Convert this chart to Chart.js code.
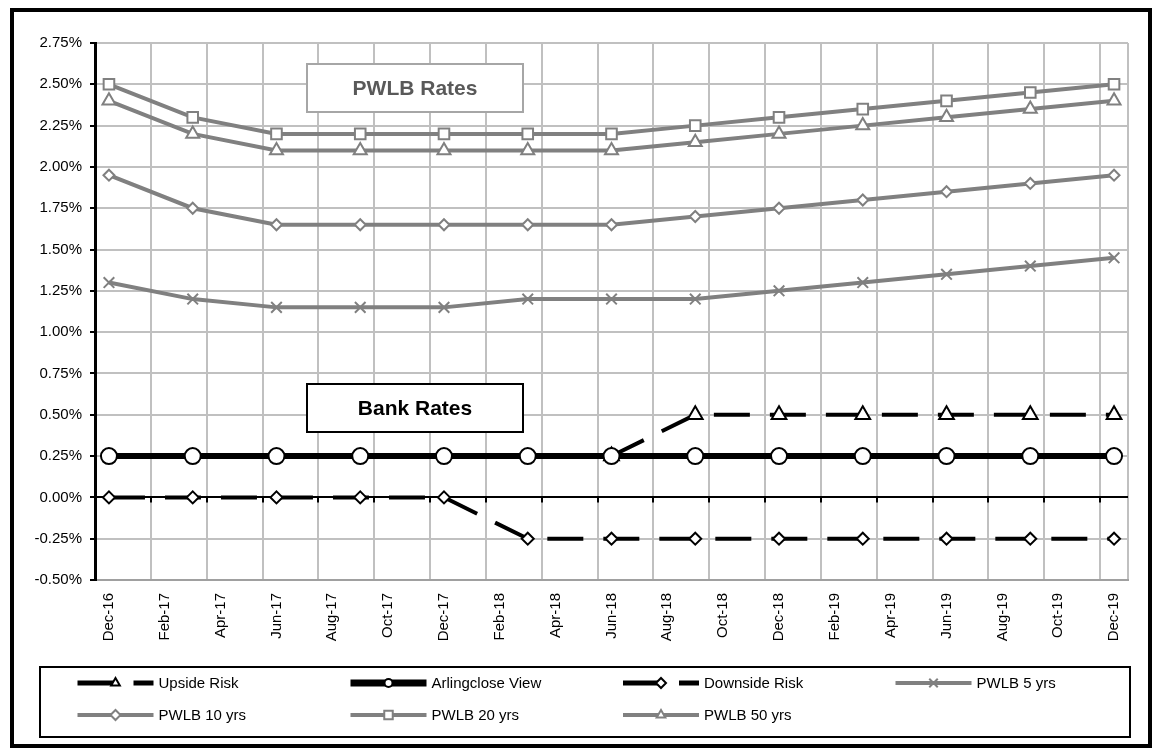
<!DOCTYPE html>
<html>
<head>
<meta charset="utf-8">
<title>PWLB and Bank Rates</title>
<script src="https://cdn.jsdelivr.net/npm/chart.js@4.4.1/dist/chart.umd.min.js"></script>
<style>
  html, body { margin: 0; padding: 0; background: #fff; }
  #wrap { position: relative; width: 1156px; height: 751px; overflow: hidden; background: #fff; }
  #c { position: absolute; left: 0; top: 0; }
  #frame { position: absolute; left: 10px; top: 8px; width: 1142px; height: 740px;
           border: 4px solid #000; box-sizing: border-box; pointer-events: none; }
</style>
</head>
<body>
<div id="wrap">
  <canvas id="c" width="1156" height="751"></canvas>
  <div id="frame"></div>
</div>
<script>
// Monthly axis categories (labels shown on every second month)
const monthLabels = [
  'Dec-16','Jan-17','Feb-17','Mar-17','Apr-17','May-17','Jun-17','Jul-17','Aug-17','Sep-17','Oct-17','Nov-17',
  'Dec-17','Jan-18','Feb-18','Mar-18','Apr-18','May-18','Jun-18','Jul-18','Aug-18','Sep-18','Oct-18','Nov-18',
  'Dec-18','Jan-19','Feb-19','Mar-19','Apr-19','May-19','Jun-19','Jul-19','Aug-19','Sep-19','Oct-19','Nov-19',
  'Dec-19'
];

// Quarterly forecast dates
const quarterLabels = ['Dec-16','Mar-17','Jun-17','Sep-17','Dec-17','Mar-18','Jun-18',
                       'Sep-18','Dec-18','Mar-19','Jun-19','Sep-19','Dec-19'];

// Bank Rate forecasts (%)
const upsideRisk      = [null, null, null, null, null, null, 0.25, 0.50, 0.50, 0.50, 0.50, 0.50, 0.50];
const arlingcloseView = [0.25, 0.25, 0.25, 0.25, 0.25, 0.25, 0.25, 0.25, 0.25, 0.25, 0.25, 0.25, 0.25];
const downsideRisk    = [0.00, 0.00, 0.00, 0.00, 0.00, -0.25, -0.25, -0.25, -0.25, -0.25, -0.25, -0.25, -0.25];

// PWLB rate forecasts (%)
const pwlb5  = [1.30, 1.20, 1.15, 1.15, 1.15, 1.20, 1.20, 1.20, 1.25, 1.30, 1.35, 1.40, 1.45];
const pwlb10 = [1.95, 1.75, 1.65, 1.65, 1.65, 1.65, 1.65, 1.70, 1.75, 1.80, 1.85, 1.90, 1.95];
const pwlb20 = [2.50, 2.30, 2.20, 2.20, 2.20, 2.20, 2.20, 2.25, 2.30, 2.35, 2.40, 2.45, 2.50];
const pwlb50 = [2.40, 2.20, 2.10, 2.10, 2.10, 2.10, 2.10, 2.15, 2.20, 2.25, 2.30, 2.35, 2.40];

// Axis range
const yMin = -0.5, yMax = 2.75, yStep = 0.25;

const FONT = "'Liberation Sans', Arial, sans-serif";
const GREY = '#808080';
const GRID = '#c0c0c0';

function toPoints(values) {
  return values
    .map((v, i) => (v === null ? null : { x: quarterLabels[i], y: v }))
    .filter(p => p !== null);
}

function series(label, values, opts) {
  return Object.assign({
    label,
    data: toPoints(values),
    fill: false,
    tension: 0,
    spanGaps: true,
    pointBackgroundColor: '#fff',
    pointHoverRadius: opts.pointRadius,
    pointHoverBorderWidth: opts.pointBorderWidth
  }, opts);
}

const datasets = [
  series('Upside Risk', upsideRisk, {
    borderColor: '#000', borderWidth: 4, borderDash: [36, 20],
    pointStyle: 'triangle', pointRadius: 8.5, pointBorderColor: '#000', pointBorderWidth: 2,
    order: 2, legendLineWidth: 5, legendRadius: 5
  }),
  series('Arlingclose View', arlingcloseView, {
    borderColor: '#000', borderWidth: 6,
    pointStyle: 'circle', pointRadius: 8, pointBorderColor: '#000', pointBorderWidth: 2,
    order: 0, legendLineWidth: 7, legendRadius: 4
  }),
  series('Downside Risk', downsideRisk, {
    borderColor: '#000', borderWidth: 4, borderDash: [36, 20],
    pointStyle: 'rectRot', pointRadius: 6, pointBorderColor: '#000', pointBorderWidth: 2,
    order: 1, legendLineWidth: 5, legendRadius: 5
  }),
  series('PWLB 5 yrs', pwlb5, {
    borderColor: GREY, borderWidth: 4,
    pointStyle: 'crossRot', pointRadius: 7.5, pointBorderColor: GREY, pointBorderWidth: 2,
    order: 3, legendLineWidth: 4, legendRadius: 6
  }),
  series('PWLB 10 yrs', pwlb10, {
    borderColor: GREY, borderWidth: 4,
    pointStyle: 'rectRot', pointRadius: 5.5, pointBorderColor: GREY, pointBorderWidth: 2,
    order: 4, legendLineWidth: 4, legendRadius: 5
  }),
  series('PWLB 20 yrs', pwlb20, {
    borderColor: GREY, borderWidth: 4,
    pointStyle: 'rect', pointRadius: 7.5, pointBorderColor: GREY, pointBorderWidth: 2,
    order: 5, legendLineWidth: 4, legendRadius: 6
  }),
  series('PWLB 50 yrs', pwlb50, {
    borderColor: GREY, borderWidth: 4,
    pointStyle: 'triangle', pointRadius: 7.5, pointBorderColor: GREY, pointBorderWidth: 2,
    order: 6, legendLineWidth: 4, legendRadius: 5
  })
];

// Marker drawing used by the legend keys
function drawMarker(ctx, style, x, y, r) {
  ctx.beginPath();
  if (style === 'circle') {
    ctx.arc(x, y, r, 0, Math.PI * 2);
  } else if (style === 'triangle') {
    for (let k = 0; k < 3; k++) {
      const a = k * 2 * Math.PI / 3;
      const px = x + Math.sin(a) * r, py = y - Math.cos(a) * r;
      if (k === 0) ctx.moveTo(px, py); else ctx.lineTo(px, py);
    }
    ctx.closePath();
  } else if (style === 'rect') {
    const s = r * Math.SQRT1_2;
    ctx.rect(x - s, y - s, 2 * s, 2 * s);
  } else if (style === 'rectRot') {
    ctx.moveTo(x - r, y); ctx.lineTo(x, y - r); ctx.lineTo(x + r, y); ctx.lineTo(x, y + r);
    ctx.closePath();
  } else if (style === 'crossRot') {
    const s = r * Math.SQRT1_2;
    ctx.moveTo(x - s, y - s); ctx.lineTo(x + s, y + s);
    ctx.moveTo(x - s, y + s); ctx.lineTo(x + s, y - s);
  }
  if (style !== 'crossRot') ctx.fill();
  ctx.stroke();
}

// Caption boxes, zero-line tick marks and the boxed legend
const decorPlugin = {
  id: 'decor',
  beforeDatasetsDraw(chart) {
    const ctx = chart.ctx;
    const xs = chart.scales.x, ys = chart.scales.y;
    const area = chart.chartArea;
    ctx.save();

    // small tick marks below the zero line
    const y0 = ys.getPixelForValue(0);
    const half = (xs.getPixelForValue(1) - xs.getPixelForValue(0)) / 2;
    ctx.strokeStyle = '#000';
    ctx.lineWidth = 2;
    for (let i = 2; i < monthLabels.length; i += 2) {
      const x = Math.round(xs.getPixelForValue(i) - half);
      ctx.beginPath();
      ctx.moveTo(x, y0);
      ctx.lineTo(x, y0 + 5);
      ctx.stroke();
    }

    // caption boxes
    const boxes = [
      { text: 'PWLB Rates', top: area.top + 21, stroke: '#a6a6a6', color: '#595959' },
      { text: 'Bank Rates', top: area.top + 341, stroke: '#000', color: '#000' }
    ];
    const bx = area.left + 212, bw = 216, bh = 48;
    boxes.forEach(b => {
      ctx.fillStyle = '#fff';
      ctx.fillRect(bx, b.top, bw, bh);
      ctx.strokeStyle = b.stroke;
      ctx.lineWidth = 2;
      ctx.strokeRect(bx, b.top, bw, bh);
      ctx.fillStyle = b.color;
      ctx.font = 'bold 21px ' + FONT;
      ctx.textAlign = 'center';
      ctx.textBaseline = 'middle';
      ctx.fillText(b.text, bx + bw / 2, b.top + bh / 2 + 1);
    });
    ctx.restore();
  },
  afterDraw(chart) {
    const ctx = chart.ctx;
    ctx.save();
    // legend frame
    ctx.strokeStyle = '#000';
    ctx.lineWidth = 2;
    ctx.strokeRect(40, 667, 1090, 70);

    const colX = [77.5, 350.5, 623, 895.5];
    const rowY = [683, 715];
    const keyLen = 76;
    chart.data.datasets.forEach((ds, i) => {
      const col = i % 4, row = Math.floor(i / 4);
      const x0 = colX[col], y = rowY[row];
      // key line
      ctx.setLineDash(ds.borderDash || []);
      ctx.lineCap = 'butt';
      ctx.strokeStyle = ds.borderColor;
      ctx.lineWidth = ds.legendLineWidth;
      ctx.beginPath();
      ctx.moveTo(x0, y);
      ctx.lineTo(x0 + keyLen, y);
      ctx.stroke();
      ctx.setLineDash([]);
      // key marker
      ctx.fillStyle = '#fff';
      ctx.strokeStyle = ds.pointBorderColor;
      ctx.lineWidth = 2;
      drawMarker(ctx, ds.pointStyle, x0 + keyLen / 2, y, ds.legendRadius);
      // label
      ctx.fillStyle = '#000';
      ctx.font = '15px ' + FONT;
      ctx.textAlign = 'left';
      ctx.textBaseline = 'middle';
      ctx.fillText(ds.label, x0 + 81, y + 1);
    });
    ctx.restore();
  }
};

Chart.defaults.font.family = FONT;

new Chart(document.getElementById('c'), {
  type: 'line',
  data: { labels: monthLabels, datasets },
  plugins: [decorPlugin],
  options: {
    responsive: false,
    animation: false,
    devicePixelRatio: 1,
    layout: { padding: { top: 43, right: 28, left: 0, bottom: 0 } },
    plugins: { legend: { display: false }, tooltip: { enabled: false } },
    elements: { line: { borderCapStyle: 'butt', borderJoinStyle: 'miter' } },
    scales: {
      x: {
        type: 'category',
        offset: true,
        grid: {
          offset: true,
          drawTicks: false,
          lineWidth: 2,
          color: c => (c.index === undefined || c.index % 2 === 0) ? GRID : 'rgba(0,0,0,0)'
        },
        border: { color: '#a0a0a0', width: 2 },
        ticks: {
          autoSkip: false,
          minRotation: 90,
          maxRotation: 90,
          padding: 13,
          color: '#000',
          font: { size: 15 },
          callback: (v, i) => (i % 2 === 0 ? monthLabels[i] : '')
        },
        afterFit: s => { s.height = 171; }
      },
      y: {
        min: yMin,
        max: yMax,
        ticks: {
          stepSize: yStep,
          padding: 8,
          color: '#000',
          font: { size: 15 },
          callback: v => v.toFixed(2) + '%'
        },
        grid: {
          lineWidth: 2,
          color: c => (c.tick && Math.abs(c.tick.value) < 1e-9) ? '#000' : GRID,
          tickLength: 5,
          tickColor: '#000',
          tickWidth: 2
        },
        border: { color: '#000', width: 3 },
        afterFit: s => { s.width = 95; }
      }
    }
  }
});
</script>
</body>
</html>
